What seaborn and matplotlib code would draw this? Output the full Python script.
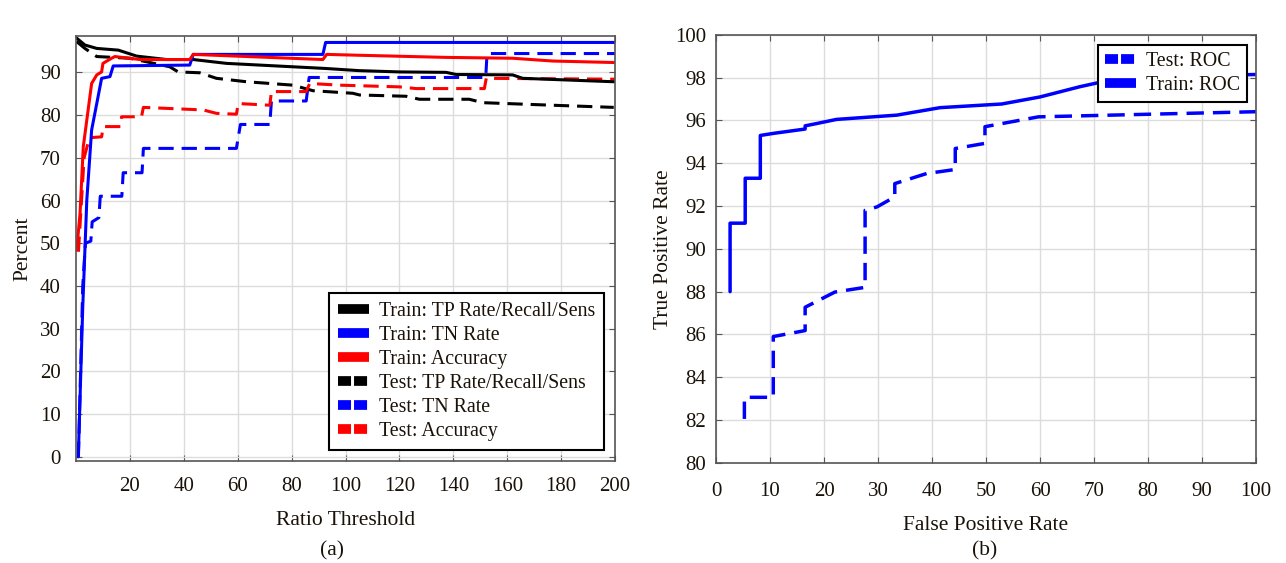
import numpy as np
import pandas as pd
import matplotlib
matplotlib.use("Agg")
import matplotlib.pyplot as plt
import seaborn as sns
from matplotlib.lines import Line2D

# ---------------- data: panel (a) ----------------
train_tp_x = [0.25, 3.3, 7.7, 15.7, 22.5, 33.6, 43.5, 55.8, 74.3, 92.8, 105, 120, 137.3, 141, 162, 165.7, 199.5]
train_tp_y = [98.0, 96.4, 95.6, 95.2, 93.8, 93.0, 93.0, 92.1, 91.5, 90.9, 90.4, 90.1, 90.0, 89.5, 89.4, 88.6, 87.8]

train_tn_x = [0.85, 2.5, 4.0, 5.8, 7.7, 9.5, 12.6, 13.8, 42.2, 43.5, 91.6, 92.6, 200]
train_tn_y = [0.0, 35.0, 60.0, 76.5, 82.7, 88.6, 89.0, 91.5, 91.7, 94.2, 94.2, 97.0, 97.0]

train_acc_x = [0.25, 1.5, 2.7, 5.8, 7.7, 9.5, 10.0, 13.2, 14.4, 23.7, 42.2, 43.5, 91.6, 93.0, 105, 137.3, 162, 176.8, 199.5]
train_acc_y = [48.4, 57.0, 72.6, 87.4, 89.4, 90.1, 92.1, 93.3, 93.7, 93.0, 93.0, 94.2, 93.0, 94.2, 94.0, 93.5, 93.3, 92.65, 92.3]

test_tp_x = [0.25, 3.3, 7.7, 20, 34.8, 37.9, 45.9, 52.1, 63.2, 80.5, 87.9, 102.7, 105.2, 122.5, 127.4, 145.9, 150.9, 176.8, 199.5]
test_tp_y = [97.2, 95.6, 93.7, 93.3, 91.3, 90.1, 89.9, 88.6, 87.8, 87.0, 85.7, 85.1, 84.7, 84.4, 83.7, 83.7, 82.9, 82.3, 81.8]

test_tn_x = [0.9, 2.5, 3.5, 5.5, 6.0, 8.5, 9.0, 17.0, 17.5, 24.5, 25.0, 59.5, 61.0, 71.9, 72.5, 85.4, 86.5, 152.0, 152.5, 200]
test_tn_y = [0.0, 40.0, 50.0, 50.5, 55.0, 56.0, 61.0, 61.0, 66.5, 66.5, 72.2, 72.2, 77.8, 77.8, 83.3, 83.3, 88.8, 88.8, 94.4, 94.4]

test_acc_x = [0.9, 3.0, 5.0, 9.5, 10.1, 16.5, 16.9, 24.3, 25.0, 47.2, 52.1, 59.5, 60.2, 71.9, 72.5, 85.4, 86.7, 97.8, 120, 126.2, 151.5, 152.2, 200]
test_acc_y = [48.0, 70.0, 74.7, 74.9, 77.3, 77.3, 79.6, 79.6, 81.8, 81.2, 80.4, 80.2, 82.7, 82.3, 85.5, 85.5, 87.4, 87.0, 86.6, 86.2, 86.2, 88.6, 88.4]

# ---------------- data: panel (b) ----------------
train_roc_x = [2.6, 2.6, 5.4, 5.4, 8.2, 8.2, 10.7, 16.5, 16.5, 18.5, 22.3, 33.5, 41.5, 52.9, 60.0, 67.4, 75.0, 100]
train_roc_y = [88.0, 91.2, 91.2, 93.3, 93.3, 95.3, 95.4, 95.6, 95.75, 95.85, 96.05, 96.25, 96.6, 96.77, 97.1, 97.58, 98.0, 98.15]

test_roc_x = [5.25, 5.25, 5.4, 10.6, 10.6, 16.5, 16.5, 22.0, 27.6, 27.6, 29.8, 33.1, 33.1, 39.0, 44.3, 44.3, 49.8, 49.8, 59.7, 100]
test_roc_y = [82.05, 83.0, 83.06, 83.06, 85.9, 86.18, 87.27, 87.98, 88.2, 91.8, 91.96, 92.43, 93.05, 93.52, 93.71, 94.69, 94.93, 95.71, 96.17, 96.41]

labels_a = ["Train: TP Rate/Recall/Sens", "Train: TN Rate", "Train: Accuracy",
            "Test: TP Rate/Recall/Sens", "Test: TN Rate", "Test: Accuracy"]
labels_b = ["Test: ROC", "Train: ROC"]

# ---------------- style ----------------
sns.set_theme(style="whitegrid")
plt.rcParams['font.family'] = ['Liberation Serif', 'DejaVu Serif']

FS_TICK = 15
FS_LAB = 15.5
FS_LEG = 14.3
DASH = (5, 2.6)
TXT = "#1a1208"

fig = plt.figure(figsize=(12.86, 5.63), dpi=100)
ax1 = fig.add_axes([0.0591, 0.181, 0.4192, 0.755])
ax2 = fig.add_axes([0.5568, 0.178, 0.4199, 0.760])


def style_axes(ax, xpad, ypad):
    ax.set_facecolor("white")
    ax.grid(True, color="#dcdcdc", lw=1.0)
    for s in ax.spines.values():
        s.set_color("#555555")
        s.set_linewidth(1.2)
        s.set_visible(True)
    ax.tick_params(direction="in", length=4, width=0.8, color="#555555",
                   top=True, right=True, bottom=True, left=True,
                   labelsize=FS_TICK, labelcolor=TXT)
    ax.tick_params(axis="x", pad=xpad)
    ax.tick_params(axis="y", pad=ypad)


solid_sets = [
    (train_tp_x, train_tp_y, "black"),
    (train_tn_x, train_tn_y, "#0000ff"),
    (train_acc_x, train_acc_y, "#ff0000"),
]
dashed_sets = [
    (test_tp_x, test_tp_y, "black"),
    (test_tn_x, test_tn_y, "#0000ff"),
    (test_acc_x, test_acc_y, "#ff0000"),
]

for xs, ys, c in dashed_sets:
    df = pd.DataFrame({"x": xs, "y": ys})
    sns.lineplot(data=df, x="x", y="y", ax=ax1, color=c, lw=2.2, sort=False,
                 estimator=None, linestyle=(0, DASH))
for xs, ys, c in solid_sets:
    df = pd.DataFrame({"x": xs, "y": ys})
    sns.lineplot(data=df, x="x", y="y", ax=ax1, color=c, lw=2.2, sort=False,
                 estimator=None)

style_axes(ax1, xpad=11.5, ypad=11)
ax1.set_xlim(0, 200)
ax1.set_ylim(-1, 98.5)
ax1.set_xticks(np.arange(20, 201, 20))
ax1.set_yticks(np.arange(0, 91, 10))
ax1.set_xlabel("Ratio Threshold", fontsize=FS_LAB, labelpad=10.5, color=TXT)
ax1.set_ylabel("Percent", fontsize=FS_LAB, labelpad=5, color=TXT)

handles_a = []
for i, c in enumerate(["black", "#0000ff", "#ff0000"] * 2):
    if i < 3:
        h = Line2D([], [], color=c, lw=7, solid_capstyle="butt")
    else:
        h = Line2D([], [], color=c, lw=7, dash_capstyle="butt", linestyle=(0, (1.34, 0.31)))
    handles_a.append(h)
leg1 = ax1.legend(handles_a, labels_a, loc="lower right", fontsize=FS_LEG, frameon=True,
                  fancybox=False, edgecolor="black", framealpha=1,
                  handlelength=1.55, handletextpad=0.5, labelspacing=0.25,
                  borderpad=0.45, borderaxespad=0.55)
leg1.get_frame().set_linewidth(1.5)
for t in leg1.get_texts():
    t.set_color(TXT)

# panel b
df = pd.DataFrame({"x": test_roc_x, "y": test_roc_y})
sns.lineplot(data=df, x="x", y="y", ax=ax2, color="#0000ff", lw=2.5, sort=False,
             estimator=None, linestyle=(0, DASH))
df = pd.DataFrame({"x": train_roc_x, "y": train_roc_y})
sns.lineplot(data=df, x="x", y="y", ax=ax2, color="#0000ff", lw=2.5, sort=False,
             estimator=None)

style_axes(ax2, xpad=13.5, ypad=7)
ax2.set_xlim(0, 100)
ax2.set_ylim(80, 100)
ax2.set_xticks(np.arange(0, 101, 10))
ax2.set_yticks(np.arange(80, 101, 2))
ax2.set_xlabel("False Positive Rate", fontsize=FS_LAB, labelpad=11, color=TXT)
ax2.set_ylabel("True Positive Rate", fontsize=FS_LAB, labelpad=1.5, color=TXT)

handles_b = [Line2D([], [], color="#0000ff", lw=7, dash_capstyle="butt", linestyle=(0, (1.34, 0.31))),
             Line2D([], [], color="#0000ff", lw=7, solid_capstyle="butt")]
leg2 = ax2.legend(handles_b, labels_b, loc="upper right", fontsize=FS_LEG, frameon=True,
                  fancybox=False, edgecolor="black", framealpha=1,
                  handlelength=1.55, handletextpad=0.5, labelspacing=0.25,
                  borderpad=0.35, borderaxespad=0, bbox_to_anchor=(0.983, 0.977))
leg2.get_frame().set_linewidth(1.5)
for t in leg2.get_texts():
    t.set_color(TXT)

fig.text(0.258, 0.022, "(a)", fontsize=FS_LAB, ha="center", va="center", color=TXT)
fig.text(0.766, 0.022, "(b)", fontsize=FS_LAB, ha="center", va="center", color=TXT)

fig.savefig("out.png", dpi=100, facecolor="white")
